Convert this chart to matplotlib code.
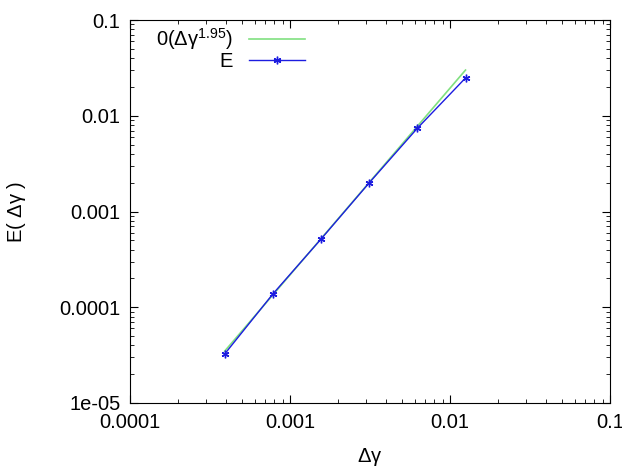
import matplotlib
matplotlib.use("Agg")
import matplotlib.pyplot as plt

# data
dgamma = [0.000390625, 0.00078125, 0.0015625, 0.003125, 0.00625, 0.0125]
energy = [3.25e-5, 1.375e-4, 5.15e-4, 1.99e-3, 7.4e-3, 0.0248]
fit_x = [0.000390625, 0.0125]
fit_y = [3.48e-5, 0.030]

xticks = [0.0001, 0.001, 0.01, 0.1]
xticklabels = ["0.0001", "0.001", "0.01", "0.1"]
yticks = [1e-5, 1e-4, 1e-3, 1e-2, 1e-1]
yticklabels = ["1e-05", "0.0001", "0.001", "0.01", "0.1"]

plt.rcParams["font.family"] = ["Liberation Sans", "DejaVu Sans"]
plt.rcParams["font.size"] = 14.5
plt.rcParams["mathtext.fontset"] = "custom"
plt.rcParams["mathtext.rm"] = "Liberation Sans"
plt.rcParams["mathtext.it"] = "Liberation Serif:italic"
plt.rcParams["mathtext.default"] = "regular"

fig = plt.figure(figsize=(6.22, 4.70), dpi=100)
ax = fig.add_axes([130 / 622, 1 - 403 / 470, 480 / 622, 383 / 470])

ax.plot(fit_x, fit_y, color="#80e080", lw=1.2, label=r"0($\Delta\gamma^{1.95}$)")
ax.plot(dgamma, energy, color="#1c1ce0", lw=1.0, marker=(6, 2, 0),
        markersize=5.5, mew=1.0, label="E")

ax.set_xscale("log")
ax.set_yscale("log")
ax.set_xlim(1e-4, 0.1)
ax.set_ylim(1e-5, 0.1)
ax.set_xticks(xticks)
ax.set_xticklabels(xticklabels)
ax.set_yticks(yticks)
ax.set_yticklabels(yticklabels)
ax.tick_params(which="both", direction="in", top=True, right=True)
ax.tick_params(which="major", length=6, pad=7)
ax.tick_params(which="minor", length=3)

ax.set_xlabel(r"$\Delta\gamma$", labelpad=10)
ax.set_ylabel(r"E( $\Delta\gamma$ )", labelpad=22)

ax.legend(loc="upper left", bbox_to_anchor=(0.02, 1.025), frameon=False,
          markerfirst=False, handlelength=2.8, labelspacing=0.0,
          borderpad=0.3)

fig.savefig("out.png", dpi=100)
